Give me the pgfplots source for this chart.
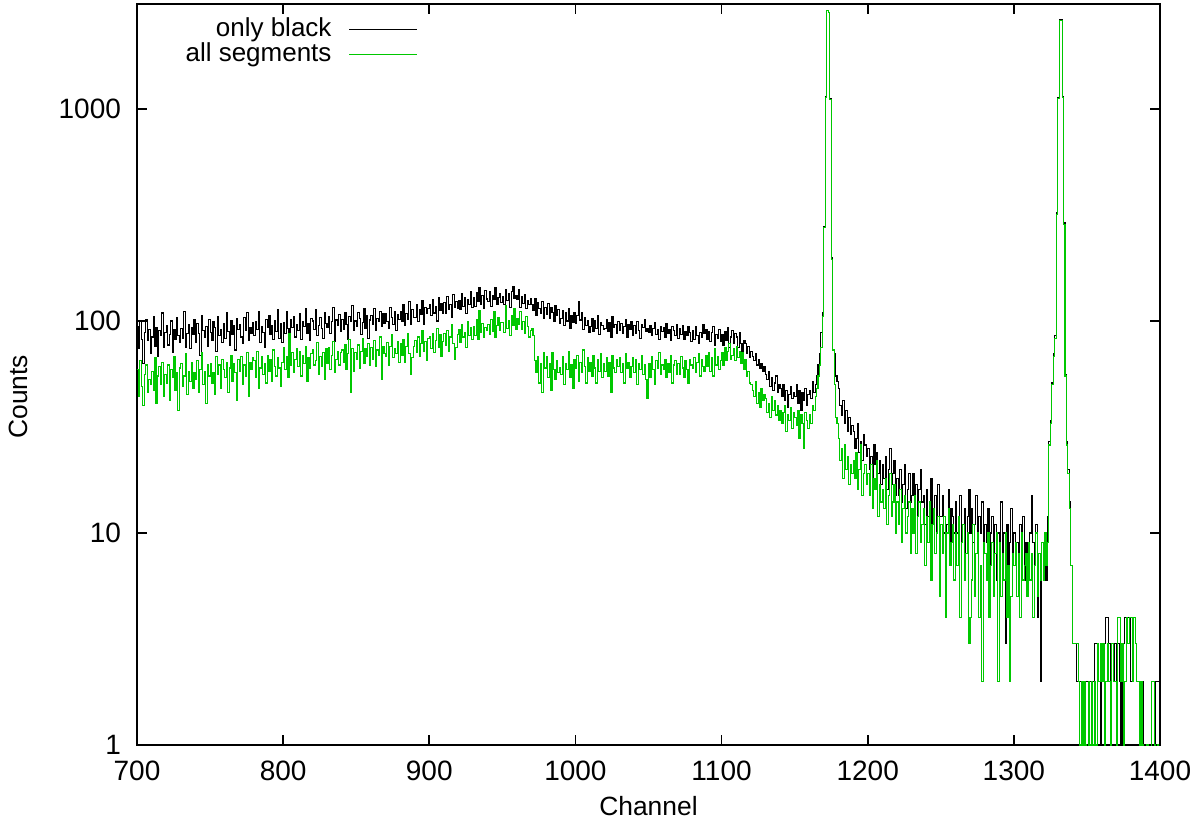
\documentclass[border=0pt]{standalone}
\usepackage{pgfplots}
\pgfplotsset{compat=1.18}
\usepackage{pgfplotstable}
\usepackage{fontspec}
\setmainfont{Liberation Sans}
\definecolor{gpgreen}{RGB}{0,200,0}

% only black, channels 700..1399 (+ closing value at 1400)
\pgfplotstableread[row sep=\\]{
y\\
94\\74\\99\\82\\63\\88\\102\\81\\91\\70\\
84\\105\\76\\93\\68\\90\\85\\109\\75\\88\\
95\\77\\86\\100\\71\\91\\82\\104\\85\\79\\
92\\83\\111\\75\\87\\96\\74\\93\\86\\101\\
79\\97\\87\\69\\106\\90\\84\\94\\76\\102\\
88\\81\\99\\93\\72\\105\\85\\91\\79\\97\\
83\\109\\89\\77\\100\\86\\95\\73\\103\\91\\
96\\84\\78\\104\\90\\110\\81\\93\\87\\98\\
85\\99\\91\\111\\79\\94\\88\\75\\102\\93\\
106\\86\\95\\82\\100\\89\\113\\83\\97\\79\\
98\\87\\111\\92\\80\\101\\93\\105\\84\\96\\
90\\108\\82\\99\\94\\115\\87\\97\\81\\103\\
100\\91\\113\\85\\95\\104\\92\\83\\109\\97\\
93\\105\\87\\99\\116\\80\\101\\95\\107\\89\\
102\\91\\109\\96\\82\\105\\99\\118\\90\\100\\
94\\110\\103\\86\\98\\115\\92\\106\\83\\101\\
106\\96\\115\\90\\103\\99\\111\\94\\108\\97\\
108\\99\\92\\116\\104\\96\\111\\90\\107\\102\\
111\\99\\119\\95\\108\\102\\123\\96\\113\\104\\
104\\119\\99\\113\\107\\125\\96\\116\\108\\114\\
120\\106\\126\\109\\117\\100\\129\\112\\121\\108\\
122\\109\\130\\113\\119\\104\\133\\116\\124\\115\\
125\\113\\134\\117\\129\\108\\126\\120\\137\\116\\
129\\117\\136\\123\\144\\120\\132\\114\\139\\127\\
123\\137\\117\\132\\126\\143\\120\\129\\135\\122\\
131\\119\\140\\125\\134\\116\\138\\145\\128\\132\\
127\\140\\116\\130\\121\\133\\115\\125\\119\\128\\
119\\112\\127\\106\\122\\115\\109\\124\\103\\116\\
107\\121\\103\\116\\110\\100\\118\\106\\113\\97\\
103\\112\\95\\109\\100\\115\\92\\106\\98\\110\\
97\\106\\124\\101\\110\\91\\104\\95\\100\\88\\
94\\103\\89\\100\\92\\106\\86\\98\\95\\91\\
92\\101\\89\\98\\84\\105\\93\\96\\87\\99\\
90\\97\\87\\94\\102\\84\\96\\91\\99\\85\\
95\\87\\99\\90\\83\\96\\93\\102\\89\\92\\
88\\95\\85\\92\\98\\86\\91\\82\\94\\89\\
93\\84\\97\\87\\91\\81\\94\\90\\85\\96\\
83\\92\\86\\95\\82\\89\\85\\94\\88\\80\\
90\\82\\94\\85\\78\\88\\84\\96\\87\\91\\
82\\89\\80\\88\\94\\77\\86\\83\\91\\80\\
86\\77\\89\\81\\93\\75\\84\\90\\78\\87\\
84\\75\\88\\78\\72\\81\\78\\70\\76\\67\\
72\\68\\65\\70\\62\\66\\60\\63\\58\\61\\
56\\53\\58\\49\\54\\47\\51\\55\\46\\50\\
48\\44\\50\\42\\47\\39\\45\\49\\43\\46\\
44\\50\\41\\47\\38\\46\\42\\48\\40\\45\\
47\\43\\52\\46\\50\\55\\62\\70\\88\\110\\
280\\1140\\2900\\2850\\1120\\200\\73\\70\\55\\52\\
48\\40\\36\\42\\33\\38\\30\\35\\29\\32\\
30\\25\\28\\33\\24\\27\\22\\29\\26\\23\\
25\\20\\23\\18\\26\\21\\24\\19\\22\\17\\
21\\18\\23\\16\\20\\25\\17\\19\\22\\15\\
18\\15\\20\\14\\17\\21\\13\\16\\19\\14\\
15\\19\\13\\17\\12\\16\\20\\14\\15\\11\\
16\\12\\14\\18\\11\\13\\15\\10\\17\\12\\
12\\15\\10\\4\\11\\16\\9\\13\\12\\10\\
14\\10\\12\\15\\9\\11\\13\\8\\12\\16\\
10\\13\\9\\11\\15\\8\\12\\10\\14\\9\\
11\\9\\13\\7\\10\\12\\8\\11\\6\\10\\
9\\14\\7\\10\\3\\11\\6\\9\\13\\8\\
10\\7\\9\\5\\11\\8\\12\\6\\9\\7\\
8\\10\\15\\9\\7\\11\\4\\8\\2\\9\\
7\\10\\6\\12\\27\\34\\51\\70\\85\\324\\
1127\\2630\\2630\\1140\\290\\56\\27\\20\\14\\7\\
3\\3\\3\\2\\2\\2\\1\\2\\0.5\\2\\
2\\1\\2\\1\\2\\3\\3\\2\\2\\1\\
2\\2\\3\\4\\4\\3\\2\\3\\2\\3\\
2\\3\\2\\1\\2\\3\\4\\3\\4\\4\\
2\\4\\4\\3\\2\\2\\1\\0.5\\2\\0.5\\
1\\0.5\\0.5\\1\\0.5\\0.5\\1\\2\\2\\2\\
2\\
}\tblack

% all segments, channels 700..1399 (+ closing value at 1400)
\pgfplotstableread[row sep=\\]{
y\\
59\\44\\65\\49\\40\\56\\62\\46\\53\\50\\
58\\47\\67\\41\\55\\61\\50\\64\\44\\56\\
51\\62\\42\\59\\54\\68\\47\\57\\38\\60\\
63\\49\\55\\70\\45\\58\\52\\64\\48\\57\\
53\\65\\46\\59\\71\\50\\58\\41\\62\\55\\
63\\51\\57\\45\\68\\56\\62\\48\\66\\59\\
54\\64\\46\\60\\69\\52\\63\\57\\42\\66\\
58\\68\\50\\62\\55\\71\\44\\64\\59\\67\\
65\\54\\72\\48\\60\\68\\56\\63\\51\\69\\
58\\66\\52\\73\\61\\55\\67\\60\\49\\64\\
75\\59\\68\\54\\87\\62\\71\\57\\66\\74\\
61\\72\\55\\69\\63\\76\\52\\67\\60\\70\\
73\\62\\65\\79\\56\\68\\61\\71\\53\\74\\
63\\75\\59\\69\\80\\57\\66\\72\\62\\71\\
73\\64\\77\\59\\70\\82\\46\\74\\58\\71\\
66\\77\\60\\72\\83\\63\\74\\68\\78\\62\\
75\\66\\81\\61\\73\\69\\84\\53\\76\\70\\
68\\79\\62\\76\\86\\67\\74\\70\\80\\64\\
78\\69\\82\\64\\76\\87\\70\\56\\67\\76\\
81\\71\\84\\68\\78\\90\\72\\80\\65\\83\\
84\\74\\87\\71\\81\\92\\75\\86\\68\\80\\
87\\77\\90\\72\\84\\96\\78\\66\\75\\86\\
91\\79\\96\\84\\88\\75\\99\\85\\93\\82\\
94\\85\\102\\82\\112\\88\\97\\84\\93\\90\\
96\\86\\102\\89\\111\\84\\95\\104\\90\\98\\
98\\88\\118\\92\\100\\85\\106\\95\\115\\91\\
103\\96\\111\\91\\99\\87\\105\\94\\84\\90\\
92\\85\\65\\57\\68\\51\\63\\46\\71\\60\\
68\\54\\63\\47\\71\\59\\53\\65\\57\\60\\
56\\68\\50\\63\\59\\72\\54\\62\\48\\66\\
60\\69\\52\\64\\57\\73\\61\\51\\67\\58\\
64\\55\\69\\60\\51\\66\\58\\70\\54\\63\\
58\\67\\55\\64\\46\\69\\60\\57\\66\\61\\
67\\57\\63\\51\\70\\60\\64\\54\\61\\67\\
57\\66\\50\\63\\59\\69\\56\\62\\53\\43\\
63\\54\\68\\59\\50\\65\\60\\71\\56\\62\\
59\\66\\54\\63\\57\\69\\51\\62\\65\\56\\
63\\56\\68\\60\\54\\65\\59\\51\\66\\62\\
60\\67\\57\\64\\70\\55\\66\\61\\58\\69\\
61\\71\\58\\67\\55\\74\\62\\68\\59\\65\\
71\\62\\75\\65\\72\\78\\66\\69\\74\\65\\
76\\67\\72\\63\\71\\59\\66\\55\\58\\51\\
50\\47\\44\\52\\41\\46\\39\\48\\42\\45\\
43\\37\\41\\35\\44\\38\\42\\36\\40\\34\\
38\\33\\37\\40\\30\\36\\34\\39\\31\\37\\
35\\32\\38\\28\\36\\33\\25\\37\\34\\31\\
36\\33\\40\\38\\44\\48\\55\\62\\75\\105\\
275\\1130\\2900\\2850\\1110\\195\\73\\50\\35\\33\\
28\\22\\25\\18\\26\\20\\23\\17\\21\\19\\
22\\18\\24\\16\\20\\26\\15\\19\\21\\17\\
19\\15\\21\\13\\18\\16\\22\\12\\17\\14\\
16\\13\\18\\11\\15\\19\\12\\14\\17\\10\\
14\\11\\16\\9\\13\\15\\10\\12\\14\\8\\
13\\10\\15\\8\\12\\14\\9\\11\\13\\7\\
12\\9\\14\\6\\11\\13\\8\\10\\12\\5\\
11\\8\\12\\4\\10\\13\\7\\9\\11\\6\\
10\\7\\12\\4\\9\\11\\6\\8\\10\\3\\
4\\6\\11\\5\\8\\10\\4\\7\\2\\9\\
8\\6\\10\\4\\7\\9\\5\\8\\10\\2\\
9\\5\\8\\6\\10\\4\\7\\2\\5\\8\\
7\\9\\5\\8\\4\\10\\6\\7\\8\\5\\
9\\6\\8\\4\\7\\10\\5\\8\\6\\9\\
6\\10\\7\\9\\26\\33\\50\\68\\83\\318\\
1120\\2620\\2620\\1130\\285\\55\\26\\19\\13\\7\\
3\\3\\3\\3\\2\\1\\2\\0.5\\2\\1\\
0.5\\2\\1\\2\\1\\2\\1\\3\\2\\3\\
2\\3\\1\\2\\3\\2\\1\\3\\2\\2\\
1\\4\\4\\2\\3\\1\\2\\4\\3\\4\\
4\\2\\4\\3\\2\\2\\0.5\\2\\1\\0.5\\
0.5\\1\\0.5\\0.5\\2\\2\\1\\0.5\\1\\0.5\\
0.5\\
}\tgreen

\begin{document}
\begin{tikzpicture}[font=\fontsize{14}{17}\selectfont]
\useasboundingbox (-68.5pt,-38pt) rectangle (532pt,372.5pt);
\begin{axis}[
  at={(0pt,0pt)}, anchor=south west,
  scale only axis, width=511.5pt, height=370.5pt,
  xmin=700, xmax=1400,
  ymode=log, log basis y=10, ymin=1, ymax=3126,
  xtick={700,800,...,1400},
  ytick={1,10,100,1000},
  yticklabels={1,10,100,1000},
  /pgf/number format/1000 sep={},
  /pgf/number format/assume math mode=true,
  xticklabel style={yshift=-4.5pt},
  yticklabel style={xshift=-4.5pt},
  tick align=inside,
  major tick length=5pt,
  minor tick length=2.5pt,
  every tick/.style={black, line width=0.8pt},
  axis line style={line width=1pt},
  xlabel={Channel},
  ylabel={Counts},
  every axis y label/.style={at={(axis description cs:-0.1163,0.47)}, rotate=90, anchor=center, font=\fontsize{13.2}{16}\selectfont},
  every axis x label/.style={at={(axis description cs:0.5,-0.0825)}, anchor=center, font=\fontsize{13.2}{16}\selectfont},
  legend plot pos=right,
  legend cell align=right,
  legend image code/.code={\draw[#1] (0pt,0pt) -- (34pt,0pt);},
  legend style={draw=none, fill=none, at={(axis description cs:0.2747,0.983)}, anchor=north east,
    inner sep=0pt, column sep=8.5pt, row sep=0pt, font=\fontsize{13}{16}\selectfont,
    nodes={inner sep=0pt, text height=10pt, text depth=2.5pt}},
]
\addplot[const plot, black, line width=0.55pt] table[x expr=\coordindex+700, y=y] {\tblack};
\addlegendentry{only black}
\addplot[const plot, gpgreen, line width=0.55pt] table[x expr=\coordindex+700, y=y] {\tgreen};
\addlegendentry{all segments}
\end{axis}
\end{tikzpicture}
\end{document}
